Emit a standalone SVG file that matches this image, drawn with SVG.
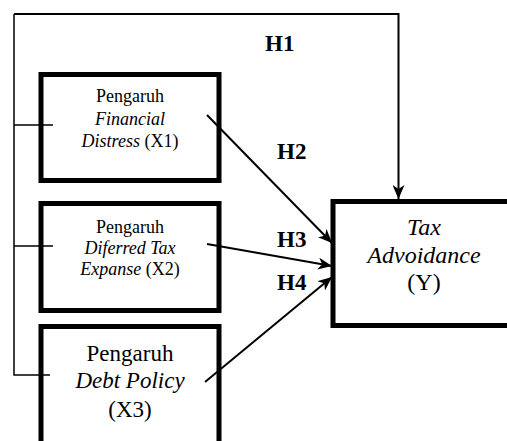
<svg xmlns="http://www.w3.org/2000/svg" width="507" height="441" viewBox="0 0 507 441">
<style>
.box{fill:#fff;stroke:#000;stroke-width:5}
.t{font-family:"Liberation Serif","Times New Roman",serif;fill:#000;text-anchor:middle}
.s{font-size:18px}
.l{font-size:23px}
.i{font-style:italic}
.h{font-family:"Liberation Serif","Times New Roman",serif;font-weight:bold;font-size:23px;fill:#000}
.c{fill:none;stroke:#000;stroke-width:2}
.thin{fill:none;stroke:#000;stroke-width:1.5}
</style>
<defs>
<marker id="ah" markerUnits="userSpaceOnUse" markerWidth="16" markerHeight="12" refX="14" refY="6" orient="auto">
<path d="M0,0 L14,6 L0,12 L4,6 z" fill="#000"/>
</marker>
</defs>
<g id="X1"><rect class="box" x="41" y="74.5" width="178" height="106"/>
<text class="t s" x="130" y="102">Pengaruh</text>
<text class="t s i" x="130" y="125">Financial</text>
<text class="t s" x="130" y="147"><tspan class="i">Distress</tspan> (X1)</text></g>
<g id="X2"><rect class="box" x="41" y="203.5" width="178" height="107"/>
<text class="t s" x="130" y="233">Pengaruh</text>
<text class="t s i" x="130" y="254">Diferred Tax</text>
<text class="t s" x="130" y="275"><tspan class="i">Expanse</tspan>  (X2)</text></g>
<g id="X3"><rect class="box" x="41" y="326.5" width="178" height="130"/>
<text class="t l" x="130" y="361">Pengaruh</text>
<text class="t l i" x="130" y="388">Debt Policy</text>
<text class="t l" x="130" y="417">(X3)</text></g>
<g id="Y"><rect class="box" x="333" y="201.5" width="190" height="124"/>
<text class="t l i" x="424" y="235" style="font-size:24px">Tax</text>
<text class="t l i" x="424" y="263" style="font-size:24px">Advoidance</text>
<text class="t l" x="424" y="290" style="font-size:24px">(Y)</text></g>
<g id="connectors">
<path class="thin" d="M14,125 H53 M14,246 H53 M14,14 V375 H50"/>
<path class="c" d="M14,14 H398.5 V199" marker-end="url(#ah)"/>
<line class="c" x1="207" y1="115" x2="332" y2="243" marker-end="url(#ah)"/>
<line class="c" x1="207" y1="244" x2="332" y2="266" marker-end="url(#ah)"/>
<line class="c" x1="205" y1="382" x2="332" y2="277" marker-end="url(#ah)"/>
<text class="h" x="265" y="51">H1</text>
<text class="h" x="277" y="159">H2</text>
<text class="h" x="277" y="247">H3</text>
<text class="h" x="277" y="290">H4</text>
</g>
</svg>
